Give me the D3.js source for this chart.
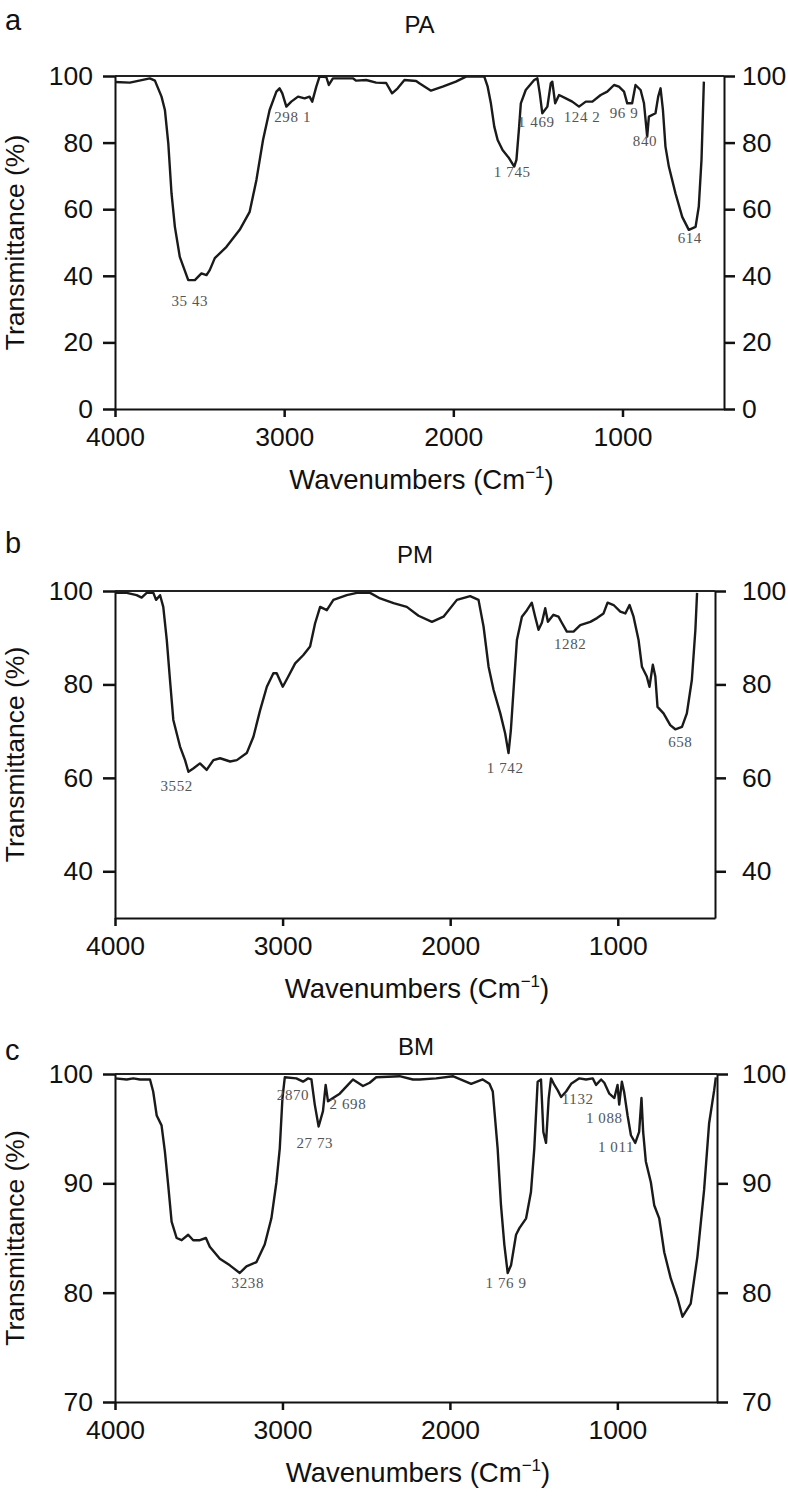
<!DOCTYPE html>
<html>
<head>
<meta charset="utf-8">
<title>FTIR spectra PA / PM / BM</title>
<script src="https://cdn.jsdelivr.net/npm/d3@7"></script>
<style>
  body { margin: 0; background: #fff; }
  svg text { font-family: "Liberation Sans", Arial, Helvetica, sans-serif; fill: #111; }
  .peak { font-family: "Liberation Serif", "Times New Roman", serif; fill: #555; font-size: 15px; letter-spacing: 0.6px; }
</style>
</head>
<body>
<svg id="chart" width="788" height="1498"></svg>
<script>
// --- data ---
const xTicks = [4000, 3000, 2000, 1000];

// PA
const paWave = [4000, 3912, 3794, 3764, 3725, 3705, 3685, 3666, 3646, 3617, 3567, 3528, 3489, 3459, 3440, 3410, 3341, 3263, 3204, 3164,
  3125, 3086, 3046, 3027, 3011, 2987, 2958, 2918, 2879, 2850, 2834, 2810, 2791, 2751, 2736, 2712, 2594, 2574, 2515, 2456,
  2397, 2362, 2329, 2289, 2220, 2201, 2132, 2063, 1985, 1925, 1817, 1797, 1778, 1758, 1738, 1709, 1670, 1640, 1627, 1611,
  1601, 1572, 1522, 1503, 1489, 1474, 1444, 1424, 1415, 1398, 1375, 1335, 1297, 1257, 1217, 1178, 1129, 1090, 1050, 1021,
  991, 972, 943, 923, 893, 873, 854, 844, 805, 789, 775, 761, 746, 726, 687, 647, 608, 568, 549, 533, 519];
const paT = [98.2, 98, 99.3, 98.6, 93.8, 89.8, 79.8, 64.8, 54.7, 45.7, 38.7, 38.7, 40.7, 40.2, 41.7, 45.3, 48.7, 53.8, 59.2, 68.8,
  80.8, 89.8, 95.3, 96.3, 94.8, 90.8, 92.3, 93.8, 93.3, 93.8, 92.3, 96.8, 99.8, 99.7, 97.3, 99.3, 99.3, 98.6, 98.8, 98,
  97.9, 94.8, 96.3, 98.8, 98.5, 97.8, 95.6, 96.8, 98.3, 99.8, 99.8, 96.8, 91.8, 84.8, 80.8, 77.8, 75.3, 72.8, 74.8, 84.8,
  91.8, 95.8, 98.8, 99.3, 94.8, 88.8, 90.8, 97.8, 98.3, 91.8, 94.3, 93.3, 92.3, 90.8, 92.3, 92.3, 94.3, 95.3, 97.3, 96.8,
  95.3, 91.8, 91.8, 97.3, 95.8, 91.8, 81.8, 87.8, 88.8, 93.8, 96.3, 89.8, 78.8, 72.8, 64.8, 57.7, 53.8, 54.7, 60.8, 74.8, 98.3];
const paPeakText = ["35 43", "298 1", "1 745", "1 469", "124 2", "96 9", "840", "614"];
const paPeakWave = [3558, 2950, 1652, 1510, 1239, 991, 867, 602];
const paPeakT = [30.9, 86.2, 69.7, 84.7, 86.2, 87.4, 79, 49.8];

// PM
const pmWave = [4000, 3930, 3871, 3841, 3811, 3771, 3755, 3731, 3712, 3691, 3672, 3652, 3612, 3582, 3562, 3533, 3493, 3453, 3413, 3373,
  3313, 3273, 3214, 3174, 3134, 3094, 3055, 3035, 2999, 2966, 2925, 2876, 2836, 2806, 2776, 2736, 2697, 2617, 2557, 2478,
  2418, 2338, 2259, 2189, 2109, 2040, 1960, 1881, 1831, 1801, 1771, 1741, 1701, 1672, 1652, 1638, 1618, 1602, 1572, 1542,
  1513, 1493, 1473, 1453, 1433, 1417, 1384, 1354, 1334, 1304, 1264, 1224, 1164, 1124, 1085, 1061, 1025, 985, 955, 930,
  906, 876, 856, 827, 811, 791, 776, 763, 727, 687, 657, 617, 588, 558, 537, 527];
const pmT = [99.6, 99.6, 99.1, 98.6, 99.6, 99.6, 98.1, 99.1, 96.6, 89.5, 81, 72.4, 66.7, 63.8, 61.3, 62, 63.1, 61.7, 63.8, 64.2,
  63.5, 63.8, 65.3, 68.8, 74.5, 79.5, 82.4, 82.4, 79.5, 81.7, 84.5, 86.3, 88.1, 93.1, 96.6, 95.9, 98.1, 99.1, 99.6, 99.6,
  98.4, 97.4, 96.6, 94.7, 93.4, 94.5, 98.1, 98.9, 98.1, 92.4, 83.8, 78.8, 73.8, 69.5, 65.3, 70.2, 81, 89.5, 94.5, 95.9,
  97.5, 94.5, 91.7, 93.2, 96.3, 93.4, 94.9, 94.5, 93.2, 91.3, 91.3, 92.7, 93.4, 94.2, 95.2, 97.5, 97, 95.6, 95.2, 97,
  94.5, 89.5, 83.8, 81.7, 79.5, 84.2, 81.7, 75.2, 73.8, 71.3, 70.4, 70.9, 73.8, 81, 91.7, 99.6];
const pmPeakText = ["3552", "1 742", "1282", "658"];
const pmPeakWave = [3632, 1672, 1284, 627];
const pmPeakT = [57.2, 61, 87.6, 66.6];

// BM
const bmWave = [4000, 3930, 3891, 3851, 3791, 3772, 3751, 3722, 3702, 3682, 3662, 3632, 3602, 3563, 3533, 3493, 3457, 3434, 3374, 3314,
  3255, 3215, 3155, 3106, 3066, 3036, 3016, 3000, 2986, 2917, 2877, 2847, 2827, 2807, 2784, 2758, 2742, 2728, 2698, 2658,
  2609, 2579, 2519, 2479, 2440, 2301, 2221, 2181, 2082, 1983, 1873, 1804, 1764, 1744, 1715, 1695, 1675, 1655, 1635, 1605,
  1585, 1545, 1516, 1496, 1476, 1456, 1442, 1426, 1410, 1396, 1376, 1356, 1336, 1306, 1276, 1227, 1187, 1147, 1127, 1097,
  1078, 1048, 1018, 999, 989, 973, 959, 939, 919, 893, 870, 856, 846, 830, 800, 780, 750, 720, 681, 641,
  611, 562, 522, 482, 452, 422, 412];
const bmT = [99.6, 99.5, 99.6, 99.5, 99.5, 98.4, 96.2, 95.3, 92.9, 89.8, 86.5, 85, 84.8, 85.3, 84.8, 84.8, 85, 84.2, 83.1, 82.5,
  81.8, 82.4, 82.8, 84.4, 86.8, 90.1, 93.2, 97.8, 99.7, 99.6, 99.3, 99.6, 99.5, 97.2, 95.2, 96.6, 99, 97.5, 97.8, 98.2,
  99, 99.5, 98.9, 99.2, 99.7, 99.8, 99.5, 99.5, 99.6, 99.8, 99.1, 99.5, 99.1, 98.4, 93.2, 88, 84.4, 81.8, 82.5, 85.3,
  85.9, 86.8, 89.2, 93.2, 99.3, 99.5, 94.7, 93.7, 97.8, 99.6, 99, 98.5, 97.9, 98.4, 99.1, 99.6, 99.5, 99.6, 99, 99.5,
  99.2, 98.2, 97.8, 99, 97.2, 99.3, 98.3, 96.2, 94.4, 93.7, 94.7, 97.8, 94.7, 92, 90.1, 88, 86.8, 83.7, 81.3, 79.5,
  77.8, 79, 83.3, 89.4, 95.5, 98.5, 99.7];
const bmPeakText = ["3238", "2870", "27 73", "2 698", "1 76 9", "1132", "1 088", "1 011"];
const bmPeakWave = [3207, 2937, 2807, 2609, 1665, 1237, 1078, 1008];
const bmPeakT = [80.4, 97.6, 93.2, 96.8, 80.4, 97.3, 95.5, 92.9];

// --- layout ---
const left = 115;
const panels = [
  { letter: "a", title: "PA", wave: paWave, t: paT, pText: paPeakText, pWave: paPeakWave, pT: paPeakT,
    xDomain: [4000, 400], yDomain: [0, 100], yTicks: [0, 20, 40, 60, 80, 100],
    top: 76, bottom: 409, right: 724, letterY: 30, titleY: 33 },
  { letter: "b", title: "PM", wave: pmWave, t: pmT, pText: pmPeakText, pWave: pmPeakWave, pT: pmPeakT,
    xDomain: [4000, 420], yDomain: [30, 100], yTicks: [40, 60, 80, 100],
    top: 591, bottom: 918, right: 715, letterY: 553, titleY: 563 },
  { letter: "c", title: "BM", wave: bmWave, t: bmT, pText: bmPeakText, pWave: bmPeakWave, pT: bmPeakT,
    xDomain: [4000, 405], yDomain: [70, 100], yTicks: [70, 80, 90, 100],
    top: 1074, bottom: 1402, right: 717, letterY: 1060, titleY: 1055 }
];

const svg = d3.select("#chart");
const fontSans = '"Liberation Sans", Arial, Helvetica, sans-serif';

function styleAxis(sel) {
  sel.attr("font-family", fontSans).attr("font-size", 26.5);
  sel.selectAll("text").attr("fill", "#111");
  sel.selectAll("line").attr("stroke", "#111").attr("stroke-width", 2.5);
  sel.select(".domain").attr("stroke", "#111").attr("stroke-width", 2);
}

panels.forEach(p => {
  const g = svg.append("g");
  const x = d3.scaleLinear().domain(p.xDomain).range([left, p.right]);
  const y = d3.scaleLinear().domain(p.yDomain).range([p.bottom, p.top]);

  // frame top line
  g.append("line")
    .attr("x1", left).attr("x2", p.right)
    .attr("y1", p.top).attr("y2", p.top)
    .attr("stroke", "#222").attr("stroke-width", 2);

  g.append("g")
    .attr("transform", `translate(0,${p.bottom})`)
    .call(d3.axisBottom(x).tickValues(xTicks).tickFormat(d3.format("d"))
      .tickSize(8).tickPadding(10).tickSizeOuter(0))
    .call(styleAxis);

  g.append("g")
    .attr("transform", `translate(${left},0)`)
    .call(d3.axisLeft(y).tickValues(p.yTicks).tickFormat(d3.format("d"))
      .tickSize(12).tickPadding(10).tickSizeOuter(0))
    .call(styleAxis);

  g.append("g")
    .attr("transform", `translate(${p.right},0)`)
    .call(d3.axisRight(y).tickValues(p.yTicks).tickFormat(d3.format("d"))
      .tickSize(11).tickPadding(742 - p.right - 11).tickSizeOuter(0))
    .call(styleAxis);

  // spectrum
  const line = d3.line()
    .x((d, i) => x(p.wave[i]))
    .y(d => y(d));
  g.append("path")
    .datum(p.t)
    .attr("d", line)
    .attr("fill", "none")
    .attr("stroke", "#1a1a1a")
    .attr("stroke-width", 2.4)
    .attr("stroke-linejoin", "round");

  // peak labels
  g.selectAll(".peak")
    .data(p.pText)
    .join("text")
    .attr("class", "peak")
    .attr("x", (d, i) => x(p.pWave[i]))
    .attr("y", (d, i) => y(p.pT[i]))
    .attr("text-anchor", "middle")
    .text(d => d);

  // panel letter and title
  g.append("text").attr("x", 5).attr("y", p.letterY)
    .attr("font-size", 29).text(p.letter);
  g.append("text").attr("x", (left + p.right) / 2).attr("y", p.titleY)
    .attr("text-anchor", "middle").attr("font-size", 24).text(p.title);

  // axis titles
  g.append("text")
    .attr("transform", `translate(24,${(p.top + p.bottom) / 2}) rotate(-90)`)
    .attr("text-anchor", "middle").attr("font-size", 26.5)
    .text("Transmittance (%)");

  const xt = g.append("text")
    .attr("x", (left + p.right) / 2 + 2).attr("y", p.bottom + 80)
    .attr("text-anchor", "middle").attr("font-size", 27.5);
  xt.append("tspan").text("Wavenumbers (Cm");
  xt.append("tspan").attr("font-size", 17).attr("dy", -11).text("\u22121");
  xt.append("tspan").attr("dy", 11).text(")");
});
</script>
</body>
</html>
